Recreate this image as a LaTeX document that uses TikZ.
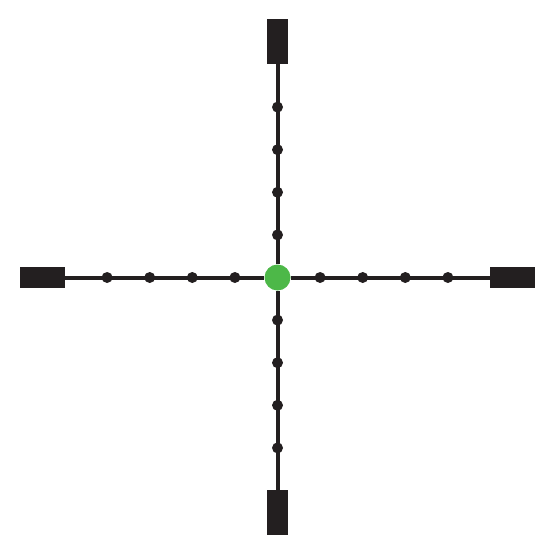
\documentclass[tikz,border=0pt]{standalone}
\usetikzlibrary{positioning}
\definecolor{reticle}{HTML}{231F20}
\definecolor{centregreen}{HTML}{4DB848}

\begin{document}
\begin{tikzpicture}[x=1pt, y=-1pt,
  hpost/.style={rectangle, fill=reticle, inner sep=0pt, minimum width=45pt, minimum height=21pt},
  vpost/.style={rectangle, fill=reticle, inner sep=0pt, minimum width=21pt, minimum height=45pt},
  mildot/.style={circle, fill=reticle, inner sep=0pt, minimum size=11pt},
  centredot/.style={circle, fill=centregreen, inner sep=0pt, minimum size=26pt},
  crossline/.style={draw=reticle, line width=4pt}]
  \useasboundingbox (0,0) rectangle (555,556);
  \node[centredot] (c) at (277.5,277.5) {};
  \node[vpost] (top) at (277.5,41.5) {};
  \node[vpost] (bottom) at (277.5,512.5) {};
  \node[hpost] (left) at (42,277.5) {};
  \node[hpost] (right) at (512.5,277.5) {};
  \path[crossline]
  (c) edge (top)
  edge (bottom)
  edge (left)
  edge (right)
;
  \foreach \k in {1,...,4} {
    \node[mildot] (up\k) at (277.5,277.5-42.6*\k) {};
    \node[mildot] (down\k) at (277.5,277.5+42.6*\k) {};
    \node[mildot] (west\k) at (277.5-42.6*\k,277.5) {};
    \node[mildot] (east\k) at (277.5+42.6*\k,277.5) {};
  }
\end{tikzpicture}
\end{document}
